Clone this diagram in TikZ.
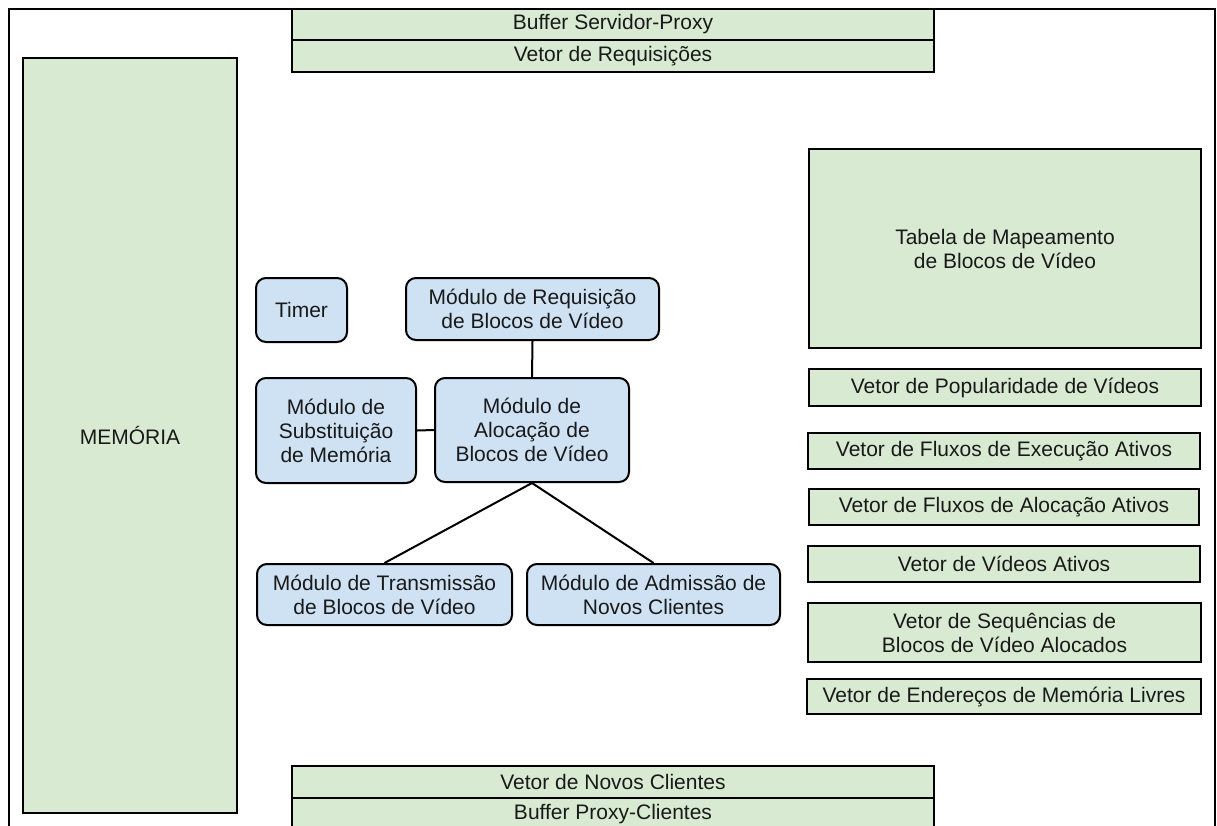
\documentclass[tikz,border=0pt]{standalone}
\usepackage{fontspec}
\setmainfont{Liberation Sans}
\definecolor{vecgreen}{HTML}{D9EAD3}
\definecolor{modblue}{HTML}{CFE2F3}
\tikzset{
  box/.style={draw=black, line width=2pt, anchor=north west, inner sep=0pt,
    align=center, font=\fontsize{21}{24}\selectfont, text=black!90},
  vec/.style={box, fill=vecgreen},
  mod/.style={box, fill=modblue, rounded corners=10pt},
  link/.style={draw=black, line width=2pt},
}
\newcommand{\bx}[6]{% style, name, x, y, width, height
  \node[#1, minimum width=#5pt, minimum height=#6pt] (#2) at (#3,#4)}
\begin{document}
\begin{tikzpicture}[x=1pt, y=-1pt]
  \useasboundingbox (0,0) rectangle (1217,825);
  \clip (0,0) rectangle (1217,825);
  \fill[white] (0,0) rectangle (1217,825);

  % outer frame, open at the bottom
  \coordinate (fbl) at (9,830);
  \coordinate (ftl) at (9,9);
  \coordinate (ftr) at (1215,9);
  \coordinate (fbr) at (1215,830);
  \draw[line width=1.5pt] (fbl) -- (ftl) -- (ftr) -- (fbr);

  % buffers and vectors along the top and bottom
  \bx{vec}{bsp}{291}{8}{642}{31} {Buffer Servidor-Proxy};
  \bx{vec}{vreq}{291}{39}{642}{32} {Vetor de Requisições};
  \bx{vec}{vnc}{291}{765}{642}{32} {Vetor de Novos Clientes};
  \bx{vec}{bpc}{291}{797}{642}{32} {Buffer Proxy-Clientes};

  % memory block
  \bx{vec}{mem}{22}{57}{214}{755} {MEMÓRIA};

  % data structures on the right
  \bx{vec}{tab}{808}{148}{392}{199} {Tabela de Mapeamento\\de Blocos de Vídeo};
  \bx{vec}{pop}{808}{368}{392}{37} {Vetor de Popularidade de Vídeos};
  \bx{vec}{exe}{807}{432}{392}{36} {Vetor de Fluxos de Execução Ativos};
  \bx{vec}{alo}{808}{488}{390}{36} {Vetor de Fluxos de Alocação Ativos};
  \bx{vec}{vat}{807}{545}{392}{36} {Vetor de Vídeos Ativos};
  \bx{vec}{seq}{807}{602}{393}{59} {Vetor de Sequências de\\Blocos de Vídeo Alocados};
  \bx{vec}{ende}{806}{678}{394}{35} {Vetor de Endereços de Memória Livres};

  % modules
  \bx{mod}{timer}{255}{277}{91}{64} {Timer};
  \bx{mod}{mreq}{405}{277}{253}{62} {Módulo de Requisição\\de Blocos de Vídeo};
  \bx{mod}{msub}{255}{377}{160}{105} {Módulo de\\Substituição\\de Memória};
  \bx{mod}{maloc}{434}{377}{194}{104} {Módulo de\\Alocação de\\Blocos de Vídeo};
  \bx{mod}{mtra}{256}{563}{255}{61} {Módulo de Transmissão\\de Blocos de Vídeo};
  \bx{mod}{madm}{526}{563}{253}{61} {Módulo de Admissão de\\Novos Clientes};

  % connections between modules
  \draw[link] (mreq.south) -- (maloc.north);
  \draw[link] (msub.east) -- (maloc.west);
  \draw[link] (maloc.south) -- (mtra.north);
  \draw[link] (maloc.south) -- (madm.north);
\end{tikzpicture}
\end{document}
